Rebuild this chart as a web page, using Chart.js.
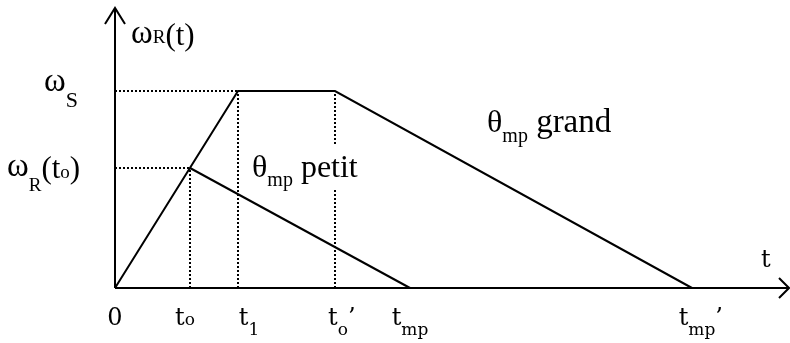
<!DOCTYPE html>
<html>
<head>
<meta charset="utf-8">
<script src="https://cdn.jsdelivr.net/npm/chart.js@4.4.1/dist/chart.umd.min.js"></script>
<style>
  html, body { margin: 0; padding: 0; background: #fff; }
  canvas { display: block; }
</style>
</head>
<body>
<canvas id="profil" width="790" height="343"></canvas>
<script>
// Instants caractéristiques (axe t) et niveaux de vitesse (axe ω)
const tickValues = [0, 7.5, 12.3, 22.0, 29.5, 57.7];
const tickNames = ['0', 't', 't', 't', 't', 't'];
const tickSubs = ['', 'o', '1', 'o', 'mp', 'mp'];
const tickPrimes = [false, false, false, true, false, true];

const omegaS = 19.7;   // ω_S
const omegaR0 = 12.0;  // ω_R(t_o)
const tMax = 67.4;
const wMax = 28.0;

// θ_mp grand : montée, palier à ω_S, puis descente jusqu'à t_mp'
const grandT = [0, 12.3, 22.0, 57.7];
const grandW = [0, 19.7, 19.7, 0];
// θ_mp petit : descente depuis ω_R(t_o) jusqu'à t_mp
const petitT = [7.5, 29.5];
const petitW = [12.0, 0];

const pts = (xs, ys) => xs.map((x, i) => ({ x, y: ys[i] }));

const solid = { borderColor: '#000', borderWidth: 2, pointRadius: 0, showLine: true, fill: false, clip: false };
const dotted = { ...solid, borderDash: [2, 2], borderWidth: 2 };

// pointillés de repère
const guides = [
  pts([0, grandT[1]], [omegaS, omegaS]),
  pts([0, petitT[0]], [omegaR0, omegaR0]),
  pts([petitT[0], petitT[0]], [0, omegaR0]),
  pts([grandT[1], grandT[1]], [0, omegaS]),
  pts([grandT[2], grandT[2]], [0, omegaS])
];

const datasets = [
  ...guides.map(d => ({ ...dotted, data: d })),
  { ...solid, data: pts(grandT, grandW) },
  { ...solid, data: pts(petitT, petitW) }
];

// texte avec indice : parts = [[texte, police, décalage vertical], ...]
function partsWidth(ctx, parts) {
  return parts.reduce((w, [t, f]) => { ctx.font = f; return w + ctx.measureText(t).width; }, 0);
}
function drawParts(ctx, x, y, parts) {
  parts.forEach(([t, f, dy]) => {
    ctx.font = f;
    ctx.fillText(t, x, y + (dy || 0));
    x += ctx.measureText(t).width;
  });
}

const SERIF = '"Liberation Serif", "Times New Roman", serif';
const TICK = '"DejaVu Serif", serif';

const axesPlugin = {
  id: 'axes',
  beforeDatasetsDraw(chart) {
    const { ctx, scales: { x, y } } = chart;
    const x0 = x.getPixelForValue(0), y0 = y.getPixelForValue(0);
    const xe = x.getPixelForValue(tMax), ye = y.getPixelForValue(wMax);
    ctx.save();
    ctx.strokeStyle = '#000';
    ctx.lineWidth = 2;
    ctx.beginPath();
    ctx.moveTo(x0, y0); ctx.lineTo(x0, ye);
    ctx.moveTo(x0 - 10, ye + 16); ctx.lineTo(x0, ye); ctx.lineTo(x0 + 10, ye + 16);
    ctx.moveTo(x0, y0); ctx.lineTo(xe, y0);
    ctx.moveTo(xe - 10, y0 - 10); ctx.lineTo(xe, y0); ctx.lineTo(xe - 10, y0 + 10);
    ctx.stroke();
    ctx.restore();
  }
};

const tickDx = [0, -5, 11, 3, 0, 5];

const labelsPlugin = {
  id: 'labels',
  afterDatasetsDraw(chart) {
    const { ctx, scales: { x, y } } = chart;
    ctx.save();
    ctx.fillStyle = '#000';
    ctx.textBaseline = 'alphabetic';
    ctx.textAlign = 'left';

    // étiquettes de l'axe t
    const yb = y.getPixelForValue(0) + 37;
    tickValues.forEach((v, i) => {
      const parts = [[tickNames[i], '24px ' + TICK, 0]];
      if (tickSubs[i]) parts.push([tickSubs[i], '17px ' + TICK, i === 1 ? 0 : 10]);
      const w = partsWidth(ctx, parts);
      const px = x.getPixelForValue(v) - w / 2 + tickDx[i];
      if (tickPrimes[i]) parts.push(['\u2019', '24px ' + TICK, 0]);
      drawParts(ctx, px, yb, parts);
    });
    drawParts(ctx, 761, 267, [['t', '24px ' + TICK, 0]]);

    // étiquettes de l'axe ω
    drawParts(ctx, 131, 43, [['\u03C9', '33px ' + SERIF, 0], ['R', '19px ' + SERIF, 0], ['(t)', '31px ' + SERIF, 2]]);
    const ys = y.getPixelForValue(omegaS);
    drawParts(ctx, 44, ys, [['\u03C9', '33px ' + SERIF, 0], ['S', '22px ' + SERIF, 16]]);
    const yr = y.getPixelForValue(omegaR0);
    drawParts(ctx, 7, yr + 8, [['\u03C9', '33px ' + SERIF, 0], ['R', '19px ' + SERIF, 15],
      ['(t', '31px ' + SERIF, 2], ['o', '19px ' + SERIF, 2], [')', '31px ' + SERIF, 2]]);

    // libellés des deux profils (fond blanc sur le pointillé)
    ctx.fillStyle = '#fff';
    ctx.fillRect(246, 144, 124, 46);
    ctx.fillStyle = '#000';
    drawParts(ctx, 252, 177, [['\u03B8', '32px ' + SERIF, 0], ['mp', '20px ' + SERIF, 9], [' petit', '32px ' + SERIF, 0]]);
    drawParts(ctx, 487, 132, [['\u03B8', '32px ' + SERIF, 0], ['mp', '20px ' + SERIF, 10], [' grand', '33px ' + SERIF, 0]]);
    ctx.restore();
  }
};

new Chart(document.getElementById('profil'), {
  type: 'scatter',
  data: { datasets },
  options: {
    responsive: false,
    animation: false,
    layout: { padding: { left: 115, top: 8, right: 1, bottom: 55 } },
    scales: {
      x: { type: 'linear', min: 0, max: tMax, display: false },
      y: { type: 'linear', min: 0, max: wMax, display: false }
    },
    plugins: { legend: { display: false }, tooltip: { enabled: false } },
    elements: { line: { tension: 0 } }
  },
  plugins: [axesPlugin, labelsPlugin]
});
</script>
</body>
</html>
